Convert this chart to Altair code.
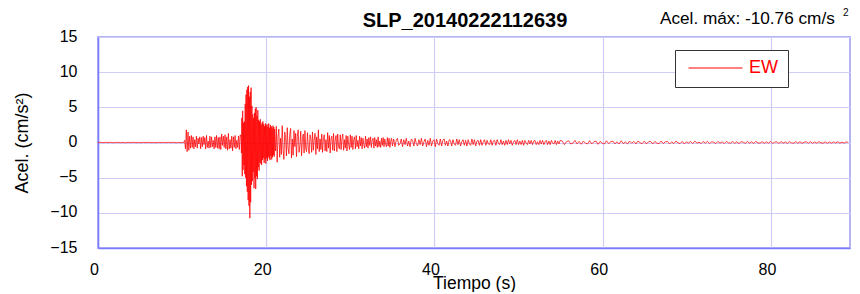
import altair as alt
import pandas as pd

TITLE = "SLP_20140222112639"
MAX_LABEL = "Acel. máx: -10.76 cm/s"
MAX_SUP = "2"
COMPONENT = "EW"
X_TITLE = "Tiempo (s)"
Y_TITLE = "Acel. (cm/s²)"
X_TICKS = [0, 20, 40, 60, 80]
Y_TICKS = [-15, -10, -5, 0, 5, 10, 15]
X_DOMAIN = [0, 89.4]
Y_DOMAIN = [-15, 15]

# pre-event noise, t = 0.0 .. 10.2 s, dt = 0.3 s
QUIET_T0, QUIET_DT = 0.0, 0.3
QUIET = [0.0, 0.02, -0.02, 0.03, -0.01, 0.02, -0.03, 0.01, 0.02, -0.02,
         0.01, -0.03, 0.02, -0.01, 0.03, -0.02, 0.01, -0.02, 0.02, -0.01,
         0.03, -0.02, 0.01, -0.03, 0.02, -0.01, 0.02, -0.02, 0.03, -0.01,
         0.02, -0.03, 0.01, -0.02, 0.02]

# P-wave window, t = 10.3 .. 16.9 s, dt = 0.1 s
PWAVE_T0, PWAVE_DT = 10.3, 0.1
PWAVE = [0.3, -0.9, 1.8, -1.3, 1.5, -1.1, 0.9, -0.8, 1.0, -0.7,
         0.8, -0.9, 0.4, -0.6, 0.9, -0.8, 0.6, -0.2, 0.8, -0.9,
         0.7, -0.6, 0.9, -0.3, 0.7, -0.9, 1.0, -0.7, 0.2, -0.8,
         0.9, -0.7, 0.8, -0.6, 0.3, -0.9, 0.8, -0.7, 1.0, -0.8,
         0.7, -0.9, 0.8, -1.0, 1.2, -0.4, 0.9, -0.7, 1.1, -0.9,
         0.8, -1.1, 1.3, -0.9, 0.4, -0.8, 0.9, -1.2, 0.8, -0.7,
         1.0, -0.9, 0.3, -0.7, 0.9, -1.0, 1.1]

# strong motion, t = 17.0 .. 21.0 s, dt = 0.05 s
STRONG_T0, STRONG_DT = 17.0, 0.05
STRONG = [0.8, -1.5, 3.5, -4.8, 4.5, -3.9, 2.8, -3.2, 3.0, -4.5,
          5.5, -5.0, 6.8, -6.2, 7.5, -7.0, 7.9, -8.2, 8.1, -9.0,
          6.5, -10.76, 7.2, -8.5, 7.8, -6.0, 5.2, -5.5, 4.0, -4.2,
          3.5, -6.5, 4.2, -5.0, 4.8, -6.6, 5.0, -4.8, 3.8, -5.2,
          4.6, -3.5, 3.2, -4.0, 3.0, -2.8, 3.3, -3.0, 2.5, -3.2,
          2.8, -2.5, 3.0, -2.2, 2.6, -2.9, 2.3, -2.4, 2.7, -3.0,
          2.4, -2.2, 2.6, -2.6, 2.2, -2.0, 2.7, -2.3, 2.1, -2.5,
          2.5, -1.9, 2.3, -2.4, 2.0, -2.1, 2.4, -1.8, 2.2, -2.0,
          1.9]

# coda, t = 21.1 .. 35.0 s, dt = 0.1 s
CODA_T0, CODA_DT = 21.1, 0.1
CODA = [-1.2, 2.3, -2.8, 0.9, 1.9, -2.1, 0.6, -1.7, 2.4, -1.0,
        -2.4, 1.5, 0.7, -1.9, 2.1, -0.8, -1.6, 1.2, 2.0, -2.2,
        0.5, -1.8, 1.7, -0.6, 1.3, -2.0, 0.9, 1.8, -1.4, -0.5,
        1.6, -1.9, 0.4, 1.2, -1.5, 1.7, -0.9, -1.3, 1.4, -0.7,
        -1.6, 1.1, 0.6, -1.4, 1.5, -1.1, 0.3, 1.3, -1.7, 0.8,
        -0.9, 1.8, -1.3, 0.5, -1.0, 1.2, -1.4, 0.7, 1.1, -1.2,
        0.4, -1.3, 1.4, -0.8, 1.0, -1.5, 0.6, 0.9, -1.1, 1.3,
        -1.2, 0.3, 1.0, -1.3, 1.2, -0.6, -0.9, 1.1, -1.0, 0.5,
        1.2, -1.1, 0.4, -0.8, 1.0, -1.2, 0.9, -0.3, -1.0, 1.1,
        -0.7, 0.9, -1.0, 0.4, 0.8, -0.9, 1.0, -0.6, 0.3, -0.9,
        0.9, -0.5, 0.7, -0.9, 0.6, -0.3, -0.8, 0.9, -0.6, 0.5,
        -0.8, 0.7, -0.4, 0.8, -0.7, 0.3, 0.6, -0.8, 0.7, -0.5,
        0.4, -0.7, 0.8, -0.6, 0.2, -0.7, 0.6, -0.4, 0.7, -0.6,
        0.5, -0.3, -0.6, 0.7, -0.5, 0.6, -0.7, 0.2, 0.6, -0.5]

# late coda, t = 35.15 .. 54.95 s, dt = 0.15 s
TAIL_T0, TAIL_DT = 35.15, 0.15
TAIL = [0.5, -0.6, 0.3, 0.6, -0.4, -0.2, 0.5, -0.6, 0.4, -0.3,
        0.6, -0.5, 0.2, -0.6, 0.5, 0.3, -0.5, 0.6, -0.2, -0.5,
        0.4, -0.3, 0.6, -0.5, 0.1, 0.5, -0.6, 0.3, -0.4, 0.6,
        -0.5, 0.2, 0.4, -0.6, 0.5, -0.2, -0.4, 0.5, -0.5, 0.3,
        0.5, -0.4, 0.2, -0.5, 0.4, 0.3, -0.5, 0.4, -0.2, -0.4,
        0.5, -0.3, 0.4, -0.5, 0.1, 0.4, -0.4, 0.3, -0.5, 0.4,
        -0.2, -0.4, 0.5, -0.3, 0.4, -0.5, 0.2, 0.3, -0.4, 0.4,
        -0.4, 0.1, 0.4, -0.4, 0.3, -0.2, -0.3, 0.4, -0.4, 0.2,
        0.3, -0.4, 0.4, -0.1, -0.3, 0.4, -0.3, 0.2, -0.4, 0.3,
        -0.3, 0.4, -0.2, 0.3, -0.4, 0.1, 0.3, -0.3, 0.4, -0.3,
        0.2, -0.3, 0.3, -0.4, 0.3, -0.1, -0.3, 0.3, -0.2, 0.3,
        -0.3, 0.2, 0.3, -0.3, 0.1, -0.3, 0.3, -0.2, 0.3, -0.3,
        0.1, 0.3, -0.3, 0.2, -0.3, 0.3, -0.1, -0.2, 0.3, -0.3,
        0.2, -0.2, 0.3]

# end of record, t = 55.2 .. 89.2 s, dt = 0.25 s
END_T0, END_DT = 55.2, 0.25
END = [0.2, -0.3, 0.1, 0.25, -0.2, -0.1, 0.3, -0.2, 0.15, -0.25,
       0.2, -0.1, -0.2, 0.25, -0.2, 0.1, 0.2, -0.25, 0.15, -0.1,
       -0.2, 0.25, -0.15, 0.1, 0.2, -0.2, 0.1, -0.2, 0.25, -0.15,
       0.05, -0.2, 0.2, -0.1, 0.15, -0.2, 0.2, -0.05, -0.15, 0.2,
       -0.2, 0.1, 0.15, -0.2, 0.15, -0.1, -0.15, 0.2, -0.15, 0.1,
       0.15, -0.2, 0.1, -0.15, 0.2, -0.05, -0.15, 0.15, -0.2, 0.1,
       -0.1, 0.15, -0.15, 0.2, -0.1, 0.05, -0.15, 0.15, -0.1, 0.15,
       -0.15, 0.1, 0.05, -0.15, 0.15, -0.1, 0.1, -0.15, 0.15, -0.05,
       -0.1, 0.15, -0.12, 0.1, -0.15, 0.12, 0.05, -0.12, 0.15, -0.1,
       0.1, -0.12, 0.15, -0.05, -0.1, 0.12, -0.12, 0.1, -0.1, 0.15,
       -0.12, 0.05, 0.1, -0.12, 0.12, -0.1, 0.08, -0.12, 0.12, -0.05,
       -0.1, 0.12, -0.1, 0.1, -0.12, 0.05, 0.1, -0.1, 0.12, -0.1,
       0.08, -0.1, 0.12, -0.05, -0.1, 0.1, -0.1, 0.08, -0.1, 0.1,
       -0.08, 0.1, -0.1, 0.05, -0.08, 0.1, 0.0]

segments = [
    (QUIET_T0, QUIET_DT, QUIET),
    (PWAVE_T0, PWAVE_DT, PWAVE),
    (STRONG_T0, STRONG_DT, STRONG),
    (CODA_T0, CODA_DT, CODA),
    (TAIL_T0, TAIL_DT, TAIL),
    (END_T0, END_DT, END),
]
times, accel = [], []
for t0, dt, vals in segments:
    for i, v in enumerate(vals):
        times.append(round(t0 + i * dt, 3))
        accel.append(v)

df = pd.DataFrame({"t": times, "a": accel, "comp": COMPONENT})

FONT = "Liberation Sans"

line = alt.Chart(df).mark_line(strokeWidth=0.75, clip=True).encode(
    x=alt.X("t:Q",
            scale=alt.Scale(domain=X_DOMAIN, nice=False, zero=False),
            axis=alt.Axis(values=X_TICKS, title=X_TITLE, labelPadding=13,
                          labelFlush=False, labelOffset=-4,
                          titlePadding=-3, titleFontSize=17.5)),
    y=alt.Y("a:Q",
            scale=alt.Scale(domain=Y_DOMAIN, nice=False),
            axis=alt.Axis(values=Y_TICKS, title=Y_TITLE, labelPadding=21,
                          labelOffset=-1, titlePadding=18, titleFontSize=18)),
    color=alt.Color("comp:N",
                    scale=alt.Scale(domain=[COMPONENT], range=["#ff0000"]),
                    legend=alt.Legend(title=None, orient="none",
                                      legendX=577, legendY=13,
                                      strokeColor="#333333", fillColor="white",
                                      padding=10, symbolType="stroke",
                                      symbolSize=2916, clipHeight=16,
                                      symbolOffset=3, symbolStrokeWidth=1,
                                      labelColor="#ff0000", labelFontSize=18,
                                      labelFont=FONT, labelOffset=6)),
)

title = alt.Chart(pd.DataFrame({"label": [TITLE]})).mark_text(
    align="center", baseline="alphabetic", fontSize=20, fontWeight="bold",
    font=FONT, color="black"
).encode(x=alt.value(367), y=alt.value(-10), text="label:N")

ann = alt.Chart(pd.DataFrame({"label": [MAX_LABEL]})).mark_text(
    align="left", baseline="alphabetic", fontSize=17.2, font=FONT, color="black"
).encode(x=alt.value(562), y=alt.value(-13), text="label:N")

sup = alt.Chart(pd.DataFrame({"s": [MAX_SUP]})).mark_text(
    align="left", baseline="alphabetic", fontSize=10, font=FONT, color="black"
).encode(x=alt.value(745), y=alt.value(-21.5), text="s:N")

chart = alt.layer(line, title, ann, sup).properties(
    width=752, height=211,
    autosize="none",
    padding={"left": 90, "top": 29, "right": 2, "bottom": 44},
).configure_view(
    stroke="#b4b4f5", strokeWidth=2
).configure_axis(
    labelFont=FONT, labelFontSize=16, labelColor="black",
    titleFont=FONT, titleFontSize=17, titleFontWeight="normal", titleColor="black",
    grid=True, gridColor="#cdcdf8", gridWidth=1.2,
    domainColor="#7a7aff", domainWidth=1.5,
    ticks=False, tickSize=0,
)

chart.save("out.html", embed_options={"renderer": "svg", "actions": False})
